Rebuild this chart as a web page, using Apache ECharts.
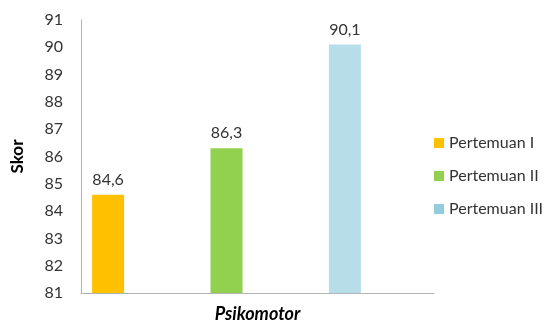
<!DOCTYPE html>
<html>
<head>
    <meta charset="utf-8">
    <title>Skor Psikomotor</title>
    <script src="https://cdn.jsdelivr.net/npm/echarts@6/dist/echarts.min.js"></script>
</head>
<body style="margin:0">
    <div id="main" style="width:550px;height:324px;"></div>
    <script type="text/javascript">
    var myChart = echarts.init(document.getElementById('main'));

    // Data
    var category = ['Psikomotor'];
    var seriesNames = ['Pertemuan I', 'Pertemuan II', 'Pertemuan III'];
    var seriesValues = [84.6, 86.3, 90.1];
    var barColors = ['#ffc000', '#92d050', '#b7dee8'];
    var yMin = 81, yMax = 91, yStep = 1;

    var font = 'Lato, sans-serif';
    var textColor = '#333';

    var series = seriesNames.map(function (name, i) {
      return {
        name: name,
        type: 'bar',
        xAxisIndex: 1,
        yAxisIndex: 1,
        barWidth: 32,
        barGap: '270%',
        itemStyle: { color: barColors[i] },
        label: {
          show: true,
          position: 'top',
          distance: 7,
          color: textColor,
          fontFamily: font,
          fontSize: 16,
          formatter: function (p) { return String(p.value).replace('.', ','); }
        },
        data: [seriesValues[i]]
      };
    });

    var option = {
      backgroundColor: '#fff',
      animation: false,
      legend: {
        orient: 'vertical',
        left: 429,
        top: 130,
        itemWidth: 10,
        itemHeight: 10,
        itemGap: 17,
        icon: 'rect',
        textStyle: { color: textColor, fontFamily: font, fontSize: 16 },
        data: [
          { name: seriesNames[0] },
          { name: seriesNames[1] },
          { name: seriesNames[2], itemStyle: { color: '#93cddd' } }
        ]
      },
      grid: [
        { left: 81, right: 116, top: 20, bottom: 31 },
        { left: 81, right: 178, top: 20, bottom: 31 }
      ],
      xAxis: [{
        type: 'category',
        gridIndex: 0,
        data: category,
        axisTick: { show: false },
        axisLine: { lineStyle: { color: '#b3b3b3', width: 1 } },
        axisLabel: {
          margin: 12,
          color: '#000',
          fontFamily: font,
          fontSize: 18,
          fontWeight: 'bold',
          fontStyle: 'italic'
        }
      }, {
        type: 'category',
        gridIndex: 1,
        data: category,
        show: false
      }],
      yAxis: [{
        type: 'value',
        gridIndex: 0,
        min: yMin,
        max: yMax,
        interval: yStep,
        name: 'Skor',
        nameLocation: 'middle',
        nameGap: 55,
        nameRotate: 90,
        nameTextStyle: { color: '#000', fontFamily: font, fontSize: 17, fontWeight: 'bold' },
        axisLine: { show: true, lineStyle: { color: '#b3b3b3', width: 1 } },
        axisTick: { show: false },
        splitLine: { show: false },
        axisLabel: { margin: 18, color: textColor, fontFamily: font, fontSize: 16 }
      }, {
        type: 'value',
        gridIndex: 1,
        min: yMin,
        max: yMax,
        interval: yStep,
        show: false
      }],
      series: series
    };

    myChart.setOption(option);
    </script>
</body>
</html>
